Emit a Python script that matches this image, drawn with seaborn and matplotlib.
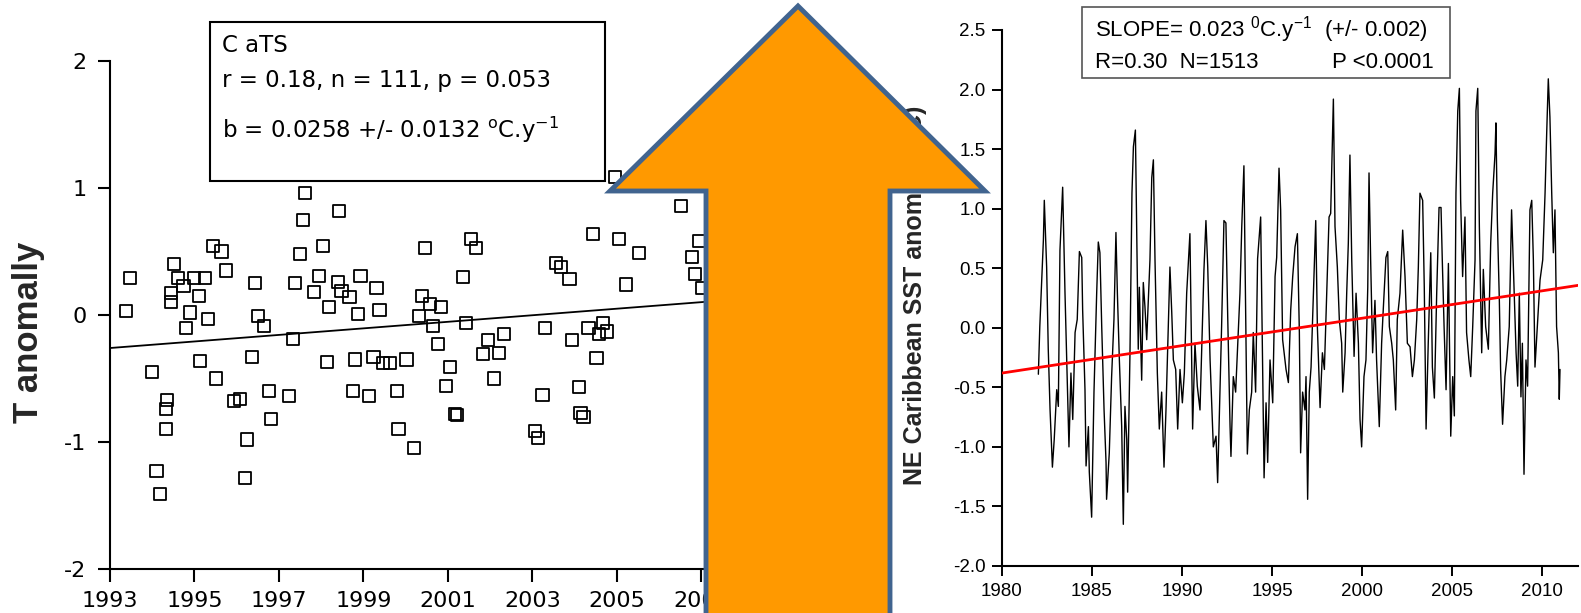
import matplotlib
matplotlib.use("Agg")
import matplotlib.pyplot as plt
import numpy as np
import pandas as pd
import seaborn as sns
from matplotlib.patches import Polygon, Rectangle

# ---------------- data : left panel (CaTS scatter) ----------------
cats_year = [1993.38, 1993.48, 1994.00, 1994.10, 1994.19, 1994.33, 1994.33, 1994.36, 1994.45, 1994.45,
             1994.52, 1994.60, 1994.74, 1994.79, 1994.90, 1994.98, 1995.10, 1995.14, 1995.24, 1995.33,
             1995.43, 1995.52, 1995.64, 1995.74, 1995.93, 1996.07, 1996.19, 1996.24, 1996.36, 1996.43,
             1996.50, 1996.64, 1996.76, 1996.81, 1997.24, 1997.33, 1997.38, 1997.50, 1997.57, 1997.62,
             1997.83, 1997.95, 1998.05, 1998.14, 1998.19, 1998.40, 1998.43, 1998.48, 1998.67, 1998.76,
             1998.81, 1998.88, 1998.93, 1999.14, 1999.24, 1999.31, 1999.38, 1999.47, 1999.64, 1999.79,
             1999.83, 2000.02, 2000.19, 2000.31, 2000.38, 2000.45, 2000.57, 2000.64, 2000.76, 2000.83,
             2000.95, 2001.05, 2001.17, 2001.21, 2001.36, 2001.43, 2001.55, 2001.67, 2001.83, 2001.95,
             2002.10, 2002.21, 2002.33, 2003.07, 2003.14, 2003.24, 2003.31, 2003.55, 2003.67, 2003.88,
             2003.93, 2004.10, 2004.14, 2004.21, 2004.33, 2004.43, 2004.52, 2004.57, 2004.67, 2004.76,
             2004.95, 2005.05, 2005.21, 2005.52, 2006.52, 2006.79, 2006.86, 2006.95, 2007.02]
cats_anom = [0.03, 0.29, -0.45, -1.23, -1.41, -0.74, -0.90, -0.67, 0.17, 0.10,
             0.40, 0.29, 0.23, -0.10, 0.02, 0.29, 0.15, -0.36, 0.29, -0.03,
             0.54, -0.50, 0.50, 0.35, -0.68, -0.66, -1.28, -0.98, -0.33, 0.25,
             -0.01, -0.09, -0.60, -0.82, -0.64, -0.19, 0.25, 0.48, 0.75, 0.96,
             0.18, 0.31, 0.54, -0.37, 0.06, 0.26, 0.82, 0.19, 0.14, -0.60,
             -0.35, 0.01, 0.31, -0.64, -0.33, 0.21, 0.04, -0.38, -0.38, -0.60,
             -0.90, -0.35, -1.05, -0.01, 0.15, 0.53, 0.09, -0.09, -0.23, 0.06,
             -0.56, -0.41, -0.78, -0.79, 0.30, -0.06, 0.60, 0.53, -0.31, -0.20,
             -0.50, -0.30, -0.15, -0.91, -0.97, -0.63, -0.10, 0.41, 0.38, 0.28,
             -0.20, -0.57, -0.77, -0.80, -0.10, 0.64, -0.34, -0.15, -0.06, -0.13,
             1.09, 0.60, 0.24, 0.49, 0.86, 0.46, 0.32, 0.58, 0.21]
cats_slope = 0.0258          # degC / yr
cats_trend_start = -0.26     # trend value at 1993
cats_trend_years = [1993.0, 2009.5]
left_xticks = [1993, 1995, 1997, 1999, 2001, 2003, 2005, 2007, 2009]
left_yticks = [-2, -1, 0, 1, 2]
left_box_lines = ["C aTS", "r = 0.18, n = 111, p = 0.053",
                  r"b = 0.0258 +/- 0.0132 $^{\mathrm{o}}$C.y$^{-1}$"]

# ---------------- data : right panel (NE Caribbean SST) ----------------
sst_year = [1982.02, 1982.10, 1982.30, 1982.35, 1982.48, 1982.57, 1982.67, 1982.80, 1982.90, 1983.04,
            1983.13, 1983.22, 1983.37, 1983.50, 1983.59, 1983.72, 1983.83, 1983.93, 1984.06, 1984.18,
            1984.30, 1984.43, 1984.48, 1984.61, 1984.67, 1984.80, 1984.85, 1984.98, 1985.11, 1985.26,
            1985.35, 1985.44, 1985.54, 1985.67, 1985.78, 1985.81, 1985.96, 1986.09, 1986.22, 1986.33,
            1986.41, 1986.52, 1986.65, 1986.74, 1986.83, 1986.93, 1986.98, 1987.11, 1987.22, 1987.30,
            1987.41, 1987.48, 1987.57, 1987.63, 1987.76, 1987.85, 1987.94, 1988.04, 1988.22, 1988.32,
            1988.41, 1988.50, 1988.63, 1988.74, 1988.87, 1989.00, 1989.11, 1989.24, 1989.33, 1989.43,
            1989.52, 1989.65, 1989.76, 1989.89, 1990.02, 1990.13, 1990.26, 1990.44, 1990.54, 1990.59,
            1990.72, 1990.85, 1991.00, 1991.15, 1991.22, 1991.33, 1991.43, 1991.56, 1991.74, 1991.89,
            1991.98, 1992.11, 1992.20, 1992.33, 1992.44, 1992.54, 1992.67, 1992.72, 1992.85, 1992.98,
            1993.09, 1993.22, 1993.32, 1993.44, 1993.56, 1993.63, 1993.74, 1993.87, 1993.96, 1994.09,
            1994.20, 1994.37, 1994.46, 1994.56, 1994.67, 1994.76, 1994.89, 1995.04, 1995.17, 1995.26,
            1995.39, 1995.48, 1995.59, 1995.78, 1995.91, 1996.04, 1996.15, 1996.28, 1996.41, 1996.52,
            1996.59, 1996.70, 1996.83, 1996.89, 1996.98, 1997.07, 1997.17, 1997.30, 1997.43, 1997.52,
            1997.67, 1997.80, 1997.91, 1998.04, 1998.17, 1998.26, 1998.35, 1998.41, 1998.50, 1998.63,
            1998.74, 1998.87, 1998.93, 1999.06, 1999.15, 1999.24, 1999.33, 1999.43, 1999.56, 1999.67,
            1999.80, 1999.89, 1999.98, 2000.11, 2000.22, 2000.32, 2000.39, 2000.48, 2000.59, 2000.72,
            2000.81, 2000.96, 2001.09, 2001.18, 2001.33, 2001.43, 2001.52, 2001.65, 2001.74, 2001.87,
            2001.96, 2002.11, 2002.26, 2002.39, 2002.52, 2002.67, 2002.80, 2002.91, 2003.04, 2003.13,
            2003.22, 2003.37, 2003.46, 2003.56, 2003.68, 2003.82, 2003.91, 2004.02, 2004.15, 2004.28,
            2004.39, 2004.46, 2004.56, 2004.67, 2004.80, 2004.93, 2005.04, 2005.13, 2005.22, 2005.32,
            2005.41, 2005.48, 2005.59, 2005.72, 2005.81, 2005.94, 2006.04, 2006.15, 2006.28, 2006.33,
            2006.43, 2006.52, 2006.65, 2006.74, 2006.87, 2007.02, 2007.15, 2007.26, 2007.39, 2007.44,
            2007.52, 2007.63, 2007.70, 2007.81, 2007.94, 2008.04, 2008.18, 2008.31, 2008.41, 2008.56,
            2008.65, 2008.74, 2008.83, 2008.91, 2009.00, 2009.11, 2009.20, 2009.33, 2009.43, 2009.52,
            2009.61, 2009.74, 2009.89, 2010.04, 2010.17, 2010.26, 2010.35, 2010.44, 2010.54, 2010.63,
            2010.72, 2010.81, 2010.91, 2010.96, 2011.00]
sst_anom = [-0.39, 0.01, 0.74, 1.07, 0.51, -0.18, -0.69, -1.17, -0.94, -0.52,
            -0.66, 0.65, 1.18, 0.29, -0.24, -1.00, -0.38, -0.77, -0.04, 0.07,
            0.64, 0.59, 0.15, -0.52, -1.16, -0.83, -1.21, -1.59, -0.54, 0.29,
            0.72, 0.63, 0.01, -0.69, -1.13, -1.44, -1.05, -0.41, 0.07, 0.80,
            0.29, -0.27, -0.83, -1.65, -0.66, -0.94, -1.38, -0.21, 1.13, 1.52,
            1.66, 0.85, -0.18, 0.34, -0.44, 0.38, 0.18, -0.10, 0.57, 1.26,
            1.41, 0.57, -0.38, -0.85, -0.54, -1.17, -0.69, 0.01, 0.51, 0.13,
            -0.27, -0.35, -0.85, -0.35, -0.63, -0.38, 0.29, 0.79, -0.27, -0.85,
            -0.13, -0.49, -0.69, 0.13, 0.49, 0.90, 0.51, -0.27, -1.00, -0.91,
            -1.30, -0.54, 0.01, 0.90, 0.88, 0.09, -0.83, -1.08, -0.41, -0.54,
            -0.16, 0.29, 0.85, 1.36, -0.21, -1.06, -0.69, -0.54, -0.04, -0.54,
            0.58, 0.93, -0.13, -1.26, -0.63, -1.13, -0.27, -0.63, 0.43, 0.59,
            1.34, 0.99, -0.10, -0.35, -0.46, 0.15, 0.43, 0.68, 0.79, -0.04,
            -1.05, -0.54, -0.69, -0.41, -1.44, -0.54, -0.33, 0.29, 0.90, 0.01,
            -0.67, -0.21, -0.35, 0.29, 0.93, 0.96, 1.55, 1.92, 0.85, 0.51,
            0.07, -0.13, -0.54, -0.21, 0.29, 0.71, 1.45, 0.57, -0.24, 0.29,
            -0.13, -0.77, -1.00, -0.41, -0.27, 0.34, 1.30, 0.57, -0.21, 0.23,
            -0.27, -0.83, -0.13, 0.15, 0.59, 0.64, 0.01, -0.13, -0.27, -0.69,
            0.07, 0.29, 0.82, 0.43, -0.13, -0.16, -0.41, -0.27, 0.07, 0.51,
            1.13, 1.07, 0.34, -0.85, -0.13, 0.63, -0.33, -0.59, 0.29, 1.01,
            1.01, 0.57, 0.01, -0.52, 0.54, -0.91, -0.41, -0.74, 1.13, 1.82,
            2.01, 1.07, 0.43, 0.93, -0.04, -0.27, -0.41, 0.01, 0.57, 1.82,
            2.01, 0.85, -0.21, 0.49, 0.01, -0.18, 0.71, 1.13, 1.46, 1.72,
            0.90, 0.23, -0.35, -0.81, -0.41, -0.27, 0.01, 0.99, 0.51, -0.21,
            -0.49, 0.29, -0.58, -0.13, -1.23, -0.27, -0.49, 0.99, 1.07, 0.57,
            -0.33, 0.01, 0.40, 0.57, 1.13, 1.63, 2.09, 1.77, 1.13, 0.63,
            0.99, 0.01, -0.21, -0.60, -0.35]
sst_slope = 0.023            # degC / yr
sst_trend_start = -0.38      # trend value at 1980
sst_trend_years = [1980.0, 2012.0]
right_xticks = [1980, 1985, 1990, 1995, 2000, 2005, 2010]
right_yticks = [-2.0, -1.5, -1.0, -0.5, 0.0, 0.5, 1.0, 1.5, 2.0, 2.5]
right_box_line1 = r"SLOPE= 0.023 $^{0}$C.y$^{-1}$  (+/- 0.002)"
right_box_line2 = "R=0.30  N=1513"
right_box_p = "P <0.0001"

# ---------------- figure ----------------
sns.set_theme(style="ticks")
plt.rcParams["font.family"] = ["DejaVu Sans"]
plt.rcParams["mathtext.default"] = "regular"

W, H = 1581, 613
fig = plt.figure(figsize=(W / 100, H / 100), dpi=100)
fig.patch.set_facecolor("white")


def fx(x):
    return x / W


def fy(y):
    return 1 - y / H


# ---- left axes ----
axL = fig.add_axes([fx(110), fy(569), (828 - 110) / W, (569 - 61) / H])
axL.set_facecolor("white")
df_l = pd.DataFrame({"year": cats_year, "anom": cats_anom})
sns.scatterplot(data=df_l, x="year", y="anom", ax=axL, marker="s", s=76,
                facecolor="none", edgecolor="black", linewidth=1.3, zorder=3)
tl = pd.DataFrame({"year": cats_trend_years})
tl["anom"] = cats_trend_start + cats_slope * (tl["year"] - 1993.0)
sns.lineplot(data=tl, x="year", y="anom", ax=axL, color="black", lw=1.3, zorder=2)
axL.set_xlim(1993, 2010)
axL.set_ylim(-2, 2)
axL.set_xticks(left_xticks)
axL.set_yticks(left_yticks)
axL.set_xticklabels([str(t) for t in left_xticks])
axL.set_yticklabels([str(t) for t in left_yticks])
sns.despine(ax=axL)
for s in ["left", "bottom"]:
    axL.spines[s].set_linewidth(1.5)
    axL.spines[s].set_color("black")
axL.tick_params(axis="both", direction="out", length=9, width=1.5, color="black",
                labelsize=16, labelcolor="black")
axL.tick_params(axis="x", pad=7)
axL.tick_params(axis="y", pad=8)
axL.set_xlabel("")
axL.set_ylabel("T anomally", fontsize=25, fontweight="bold", family="Liberation Sans",
               va="center")
axL.yaxis.set_label_coords((29 - 110) / 718, (569 - 332) / 508)

# left info box
fig.add_artist(Rectangle((fx(210), fy(181)), (605 - 210) / W, (181 - 22) / H,
                         transform=fig.transFigure, facecolor="white",
                         edgecolor="black", lw=1.5, zorder=5))
for txt, yy in zip(left_box_lines, [45, 80, 130]):
    fig.text(fx(222), fy(yy), txt, fontsize=16.5, va="center", ha="left",
             color="black", zorder=6)

# ---- right axes ----
axR = fig.add_axes([fx(1002), fy(566), 576 / W, 536 / H])
axR.set_facecolor("white")
df_r = pd.DataFrame({"year": sst_year, "anom": sst_anom})
sns.lineplot(data=df_r, x="year", y="anom", ax=axR, color="black", lw=1.0,
             estimator=None, sort=False, zorder=2)
tr = pd.DataFrame({"year": sst_trend_years})
tr["anom"] = sst_trend_start + sst_slope * (tr["year"] - 1980.0)
sns.lineplot(data=tr, x="year", y="anom", ax=axR, color="red", lw=2.0, zorder=3)
axR.set_xlim(1980, 2012)
axR.set_ylim(-2.0, 2.5)
axR.set_xticks(right_xticks)
axR.set_yticks(right_yticks)
axR.set_xticklabels([str(t) for t in right_xticks])
axR.set_yticklabels([f"{t:.1f}" for t in right_yticks])
sns.despine(ax=axR)
for s in ["left", "bottom"]:
    axR.spines[s].set_linewidth(1.5)
    axR.spines[s].set_color("black")
axR.tick_params(axis="both", direction="out", length=7, width=1.4, color="black",
                labelsize=13.5, labelcolor="black")
for lab in axR.get_xticklabels() + axR.get_yticklabels():
    lab.set_family("Liberation Sans")
axR.tick_params(axis="x", pad=5)
axR.tick_params(axis="y", pad=5)
axR.set_xlabel("")
axR.set_ylabel("NE Caribbean SST anomaly (\u00b0C)", fontsize=18, fontweight="bold",
               family="Liberation Sans", va="center")
axR.yaxis.set_label_coords((915 - 1002) / 576, (566 - 295) / 536)

# right info box
fig.add_artist(Rectangle((fx(1082), fy(78)), (1450 - 1082) / W, (78 - 7) / H,
                         transform=fig.transFigure, facecolor="white",
                         edgecolor="#555555", lw=1.2, zorder=5))
fig.text(fx(1095), fy(30), right_box_line1, fontsize=16, va="center", ha="left",
         family="Liberation Sans", color="black", zorder=6)
fig.text(fx(1095), fy(62), right_box_line2, fontsize=16, va="center", ha="left",
         family="Liberation Sans", color="black", zorder=6)
fig.text(fx(1434), fy(62), right_box_p, fontsize=16, va="center", ha="right",
         family="Liberation Sans", color="black", zorder=6)

# ---- big orange arrow overlay ----
arrow_px = [(798, 6), (985, 191), (890, 191), (890, 640), (706, 640), (706, 191), (610, 191)]
arrow = Polygon([(fx(x), fy(y)) for x, y in arrow_px], closed=True,
                transform=fig.transFigure, facecolor="#FF9900",
                edgecolor="#41648F", lw=3.5, joinstyle="miter", zorder=20)
fig.add_artist(arrow)

fig.savefig("out.png", dpi=100, facecolor="white")
